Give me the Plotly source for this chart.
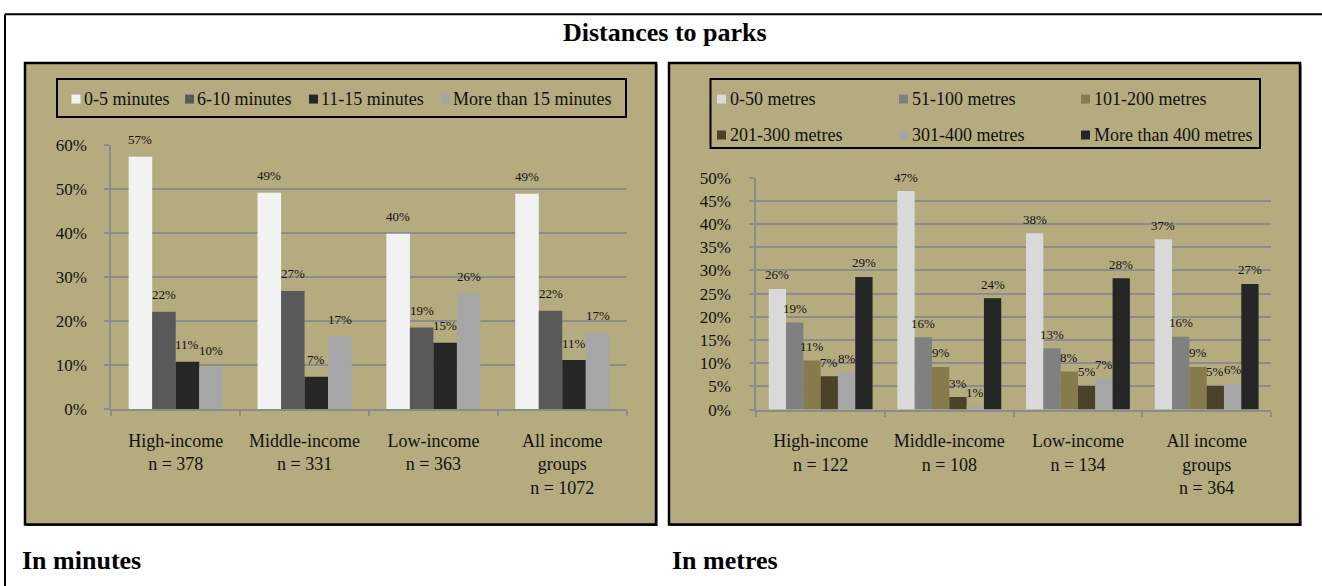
import plotly.graph_objects as go

# ---------------- data ----------------
groups = ["High-income", "Middle-income", "Low-income", "All income groups"]
ticks_minutes = ["High-income<br>n = 378", "Middle-income<br>n = 331",
                 "Low-income<br>n = 363", "All income<br>groups<br>n = 1072"]
ticks_metres = ["High-income<br>n = 122", "Middle-income<br>n = 108",
                "Low-income<br>n = 134", "All income<br>groups<br>n = 364"]

min_names = ["0-5 minutes", "6-10 minutes", "11-15 minutes", "More than 15 minutes"]
min_0_5 = [57.4, 49.2, 39.9, 49.0]
min_6_10 = [22.2, 26.9, 18.6, 22.4]
min_11_15 = [10.8, 7.4, 15.1, 11.2]
min_15_plus = [9.6, 16.6, 26.4, 17.4]

met_names = ["0-50 metres", "51-100 metres", "101-200 metres",
             "201-300 metres", "301-400 metres", "More than 400 metres"]
met_0_50 = [26.0, 47.1, 38.0, 36.7]
met_51_100 = [18.8, 15.6, 13.2, 15.7]
met_101_200 = [10.6, 9.2, 8.2, 9.2]
met_201_300 = [7.2, 2.7, 5.1, 5.1]
met_301_400 = [8.1, 0.65, 6.6, 5.6]
met_400_plus = [28.6, 24.0, 28.3, 27.1]

# ---------------- styles ----------------
W, HF = 1322, 586
OFF, SCALE = 7.8, 0.969   # page placement of the figure as observed in the screenshot
FONT = "Liberation Serif"
OLIVE = "#B4AC7E"
GRID = "#8C8C8C"
min_colors = ["#F2F2F2", "#595959", "#262626", "#A6A6A6"]
met_colors = ["#D9D9D9", "#808080", "#867B4C", "#4A4229", "#A6A6A6", "#262626"]


def px(x):
    return x / W


def py(y):
    return 1 - ((y - OFF) / SCALE) / HF


fig = go.Figure()
annotations = []


def add_group(names, series, colors, xa, ya, bar_w, x0_px, x1_px, gap_px):
    n = len(series)
    cat_px = (x1_px - x0_px) / len(groups)
    for i, (name, vals, col) in enumerate(zip(names, series, colors)):
        off = -n * bar_w / 2 + i * bar_w
        fig.add_trace(go.Bar(x=groups, y=vals, name=name, width=bar_w, offset=off,
                             marker=dict(color=col, line=dict(width=0)),
                             xaxis=xa, yaxis=ya, showlegend=False))
        for g, v in zip(groups, vals):
            annotations.append(dict(xref=xa, yref=ya, x=g, y=v, text=f"{round(v)}%",
                                    xshift=(off + bar_w / 2) * cat_px, yshift=gap_px,
                                    xanchor="center", yanchor="middle", showarrow=False,
                                    font=dict(family=FONT, size=13, color="#111")))


add_group(min_names, [min_0_5, min_6_10, min_11_15, min_15_plus], min_colors,
          "x", "y", 0.1825, 111.3, 626.7, 17)
add_group(met_names, [met_0_50, met_51_100, met_101_200, met_201_300, met_301_400, met_400_plus],
          met_colors, "x2", "y2", 0.1345, 756.3, 1271, 14)

axis_common = dict(showline=True, linecolor=GRID, linewidth=2, ticks="outside",
                   tickcolor=GRID, tickwidth=2, ticklen=5)

fig.update_layout(
    width=W, height=HF, margin=dict(l=0, r=0, t=0, b=0),
    paper_bgcolor="white", plot_bgcolor="rgba(0,0,0,0)",
    barmode="group", showlegend=False,
    font=dict(family=FONT, color="#111"),
    xaxis=dict(domain=[px(111.3), px(626.7)], anchor="y", type="category",
               tickvals=groups, ticktext=ticks_minutes, tickson="boundaries",
               tickfont=dict(size=18), ticklabelstandoff=14, **axis_common),
    yaxis=dict(domain=[py(408.7), py(144.3)], anchor="x", range=[0, 60], dtick=10,
               ticksuffix="%", showgrid=True, gridcolor=GRID, gridwidth=2, zeroline=False,
               tickfont=dict(size=17), ticklabelstandoff=14, **axis_common),
    xaxis2=dict(domain=[px(756.3), px(1271)], anchor="y2", type="category",
                tickvals=groups, ticktext=ticks_metres, tickson="boundaries",
                tickfont=dict(size=18), ticklabelstandoff=14, **axis_common),
    yaxis2=dict(domain=[py(409), py(176.7)], anchor="x2", range=[0, 50], dtick=5,
                ticksuffix="%", showgrid=True, gridcolor=GRID, gridwidth=2, zeroline=False,
                tickfont=dict(size=17), ticklabelstandoff=15, **axis_common),
)

shapes = []
# outer frame (top and left)
shapes.append(dict(type="line", xref="paper", yref="paper", x0=px(5), x1=px(1322), y0=py(13), y1=py(13),
                   line=dict(color="black", width=2), layer="below"))
shapes.append(dict(type="line", xref="paper", yref="paper", x0=px(5), x1=px(5), y0=py(13), y1=py(620),
                   line=dict(color="black", width=2), layer="below"))
# panels with a thin shadow
for (x0, x1) in [(25, 656), (669, 1300)]:
    shapes.append(dict(type="rect", xref="paper", yref="paper", x0=px(x0 + 1.5), x1=px(x1 + 1.5),
                       y0=py(63.5), y1=py(525.5), fillcolor="#2a2a2a", line=dict(width=0), layer="below"))
    shapes.append(dict(type="rect", xref="paper", yref="paper", x0=px(x0), x1=px(x1),
                       y0=py(62), y1=py(524), fillcolor=OLIVE, line=dict(color="black", width=2.5),
                       layer="below"))
# legend boxes
shapes.append(dict(type="rect", xref="paper", yref="paper", x0=px(57), x1=px(626), y0=py(78), y1=py(116),
                   line=dict(color="black", width=2), layer="below"))
shapes.append(dict(type="rect", xref="paper", yref="paper", x0=px(710.5), x1=px(1260), y0=py(78), y1=py(147),
                   line=dict(color="black", width=2), layer="below"))

# manual legends
min_leg_x = [71.5, 185, 309, 441]
for name, col, x in zip(min_names, min_colors, min_leg_x):
    shapes.append(dict(type="rect", xref="paper", yref="paper", x0=px(x), x1=px(x + 9),
                       y0=py(102.5), y1=py(93.5), fillcolor=col, line=dict(width=0)))
    annotations.append(dict(xref="paper", yref="paper", x=px(x + 10), y=py(98), text=name,
                            xanchor="left", yanchor="middle", showarrow=False,
                            font=dict(family=FONT, size=18, color="#111")))
met_leg_x = [717, 899, 1081]
met_leg_y = [98, 134]
for i, (name, col) in enumerate(zip(met_names, met_colors)):
    x = met_leg_x[i % 3]
    yc = met_leg_y[i // 3]
    shapes.append(dict(type="rect", xref="paper", yref="paper", x0=px(x), x1=px(x + 9),
                       y0=py(yc + 4.5), y1=py(yc - 4.5), fillcolor=col, line=dict(width=0)))
    annotations.append(dict(xref="paper", yref="paper", x=px(x + 11), y=py(yc), text=name,
                            xanchor="left", yanchor="middle", showarrow=False,
                            font=dict(family=FONT, size=18, color="#111")))

annotations.append(dict(xref="paper", yref="paper", x=px(665), y=py(31), text="<b>Distances to parks</b>",
                        xanchor="center", yanchor="middle", showarrow=False,
                        font=dict(family=FONT, size=26, color="black")))
annotations.append(dict(xref="paper", yref="paper", x=px(20), y=py(560), text="<b>In minutes</b>",
                        xanchor="left", yanchor="middle", showarrow=False,
                        font=dict(family=FONT, size=26, color="black")))
annotations.append(dict(xref="paper", yref="paper", x=px(670), y=py(560), text="<b>In metres</b>",
                        xanchor="left", yanchor="middle", showarrow=False,
                        font=dict(family=FONT, size=26, color="black")))

fig.update_layout(shapes=shapes, annotations=annotations)
fig.write_html("out.html")
